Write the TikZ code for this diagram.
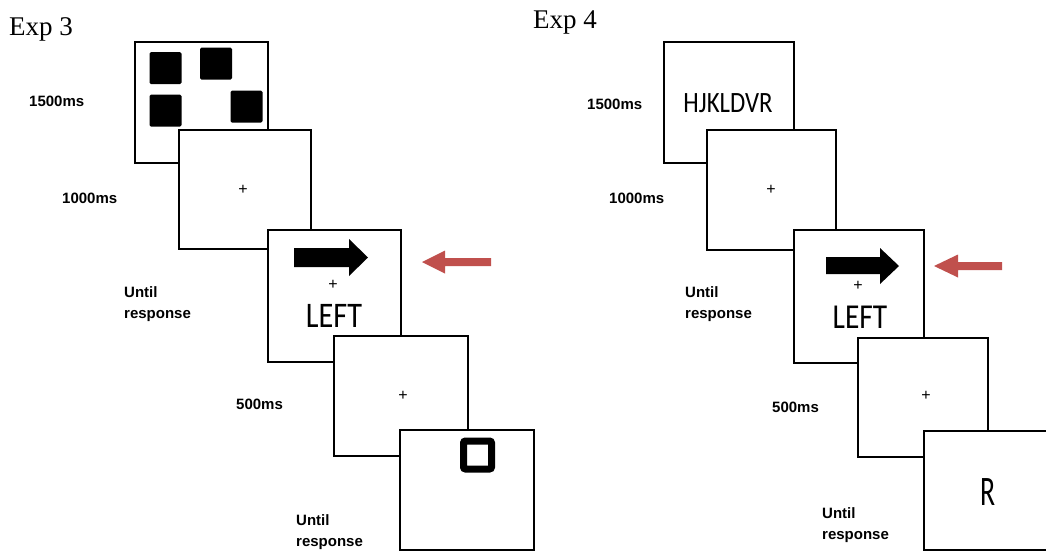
\documentclass[tikz,border=0pt]{standalone}
\usepackage{fontspec}
\setmainfont{Liberation Serif}
\newfontfamily\labelfont{Liberation Sans}
\newfontfamily\stimfont{Carlito}
\usetikzlibrary{positioning}

\definecolor{cuered}{RGB}{192,80,77}

\begin{document}
\begin{tikzpicture}[
			x=1pt,y=-1pt,
			screen/.style={draw,line width=2.4pt,fill=white,anchor=north west,inner sep=0pt},
			timing/.style={font=\labelfont\bfseries\fontsize{15}{21}\selectfont,align=left,anchor=west,inner sep=0pt},
			exptitle/.style={font=\fontsize{27}{27}\selectfont,anchor=base west,inner sep=0pt},
			fix/.style={font=\labelfont\fontsize{16}{16}\selectfont,inner sep=0pt},
			word/.style={font=\stimfont,inner sep=0pt},
			blob/.style={fill=black,rounded corners=1.5pt,minimum size=32pt,inner sep=0pt}
			]
			\useasboundingbox (0,0) rectangle (1046,550);
			\clip (0,0) rectangle (1046,550);
			
			% Exp 3
			\node[exptitle] (e3) at (9,35) {Exp 3};
			\node[timing] (l1) at (29,101) {1500ms};
			\node[timing] (l2) at (62,198) {1000ms};
			\node[timing] (l3) at (124,304) {Until\\response};
			\node[timing] (l4) at (236,404) {500ms};
			\node[timing] (l5) at (296,532) {Until\\response};
			
			\node[screen,minimum width=133pt,minimum height=121pt] (s1) at (134,41) {};
			\node[blob] (b1) at (165.5,68) {};
			\node[blob] (b2) at (216,63.5) {};
			\node[blob] (b3) at (165.5,110.5) {};
			\node[blob] (b4) at (246.5,106.5) {};
			
			\node[screen,minimum width=132pt,minimum height=119pt] (s2) at (178,129) {};
			\node[fix] (f2) at (243,190) {+};
			
			\node[screen,minimum width=133pt,minimum height=132pt] (s3) at (267,229) {};
			\fill (294,248) -- (349,248) -- (349,239) -- (368,257.5) -- (349,276) -- (349,267) -- (294,267) -- cycle;
			\node[fix] (f3) at (333,285) {+};
			\node[word,font=\stimfont\fontsize{36}{36}\selectfont] (w3) at (334,316) {\scalebox{0.84}[1]{LEFT}};
			\fill[cuered] (422,262) -- (445,250.5) -- (445,258) -- (491,258) -- (491,266) -- (445,266) -- (445,273.5) -- cycle;
			
			\node[screen,minimum width=134pt,minimum height=120pt] (s4) at (333,335) {};
			\node[fix] (f4) at (403,396) {+};
			
			\node[screen,minimum width=134pt,minimum height=120pt] (s5) at (399,429) {};
			\draw[line width=7pt,rounded corners=2pt] (463.5,441) rectangle (491.5,469);
			
			% Exp 4
			\node[exptitle] (e4) at (533,28) {Exp 4};
			\node[timing] (m1) at (587,104) {1500ms};
			\node[timing] (m2) at (609,198) {1000ms};
			\node[timing] (m3) at (685,304) {Until\\response};
			\node[timing] (m4) at (772,407) {500ms};
			\node[timing] (m5) at (822,525) {Until\\response};
			
			\node[screen,minimum width=130pt,minimum height=121pt] (r1) at (663,41) {};
			\node[word,font=\stimfont\fontsize{29.5}{30}\selectfont] (w1) at (728,103) {\scalebox{0.84}[1]{HJKLDVR}};
			
			\node[screen,minimum width=129pt,minimum height=120pt] (r2) at (706,129) {};
			\node[fix] (g2) at (771,190) {+};
			
			\node[screen,minimum width=130pt,minimum height=133pt] (r3) at (793,229) {};
			\fill (826,257) -- (880,257) -- (880,248) -- (899,266) -- (880,284) -- (880,274) -- (826,274) -- cycle;
			\node[fix] (g3) at (858,286) {+};
			\node[word,font=\stimfont\fontsize{35}{35}\selectfont] (w4) at (860,317) {\scalebox{0.84}[1]{LEFT}};
			\fill[cuered] (934,266) -- (958,254.5) -- (958,262) -- (1002,262) -- (1002,270) -- (958,270) -- (958,277.5) -- cycle;
			
			\node[screen,minimum width=130pt,minimum height=119pt] (r4) at (857,337) {};
			\node[fix] (g4) at (926,396) {+};
			
			\node[screen,minimum width=140pt,minimum height=119pt] (r5) at (923,430) {};
			\node[word,font=\stimfont\fontsize{42}{42}\selectfont] (w5) at (988,492) {\scalebox{0.66}[1]{R}};
		\end{tikzpicture}
\end{document}
